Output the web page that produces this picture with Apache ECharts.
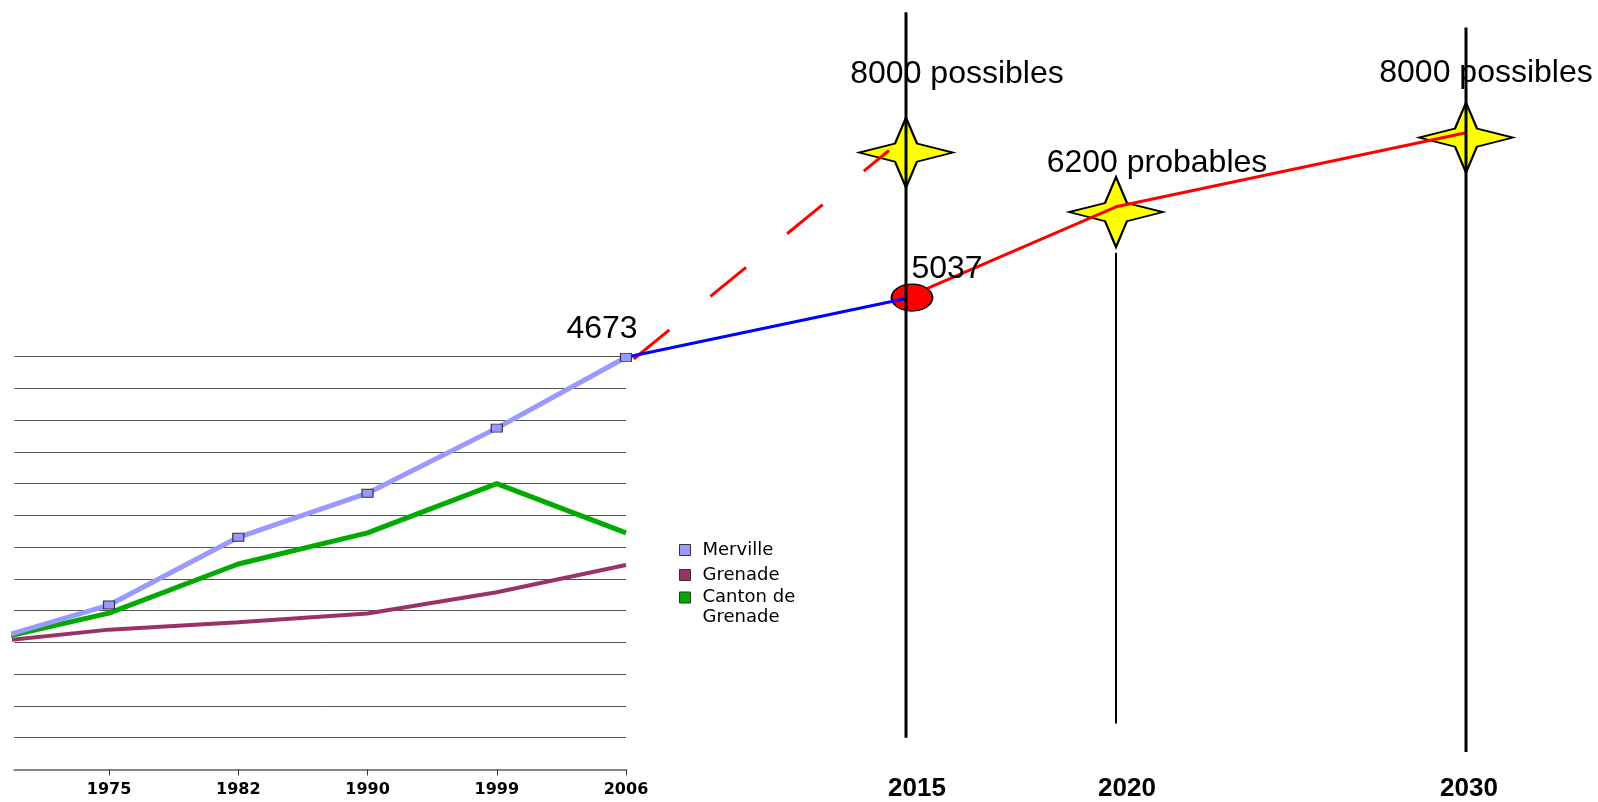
<!DOCTYPE html>
<html><head><meta charset="utf-8">
<script src="https://cdn.jsdelivr.net/npm/echarts/dist/echarts.min.js"></script>
<style>html,body{margin:0;padding:0;background:#fff}#c{width:1598px;height:802px}</style>
</head><body><div id="c"></div>
<script>
// ---- data ----
const years = ['1968','1975','1982','1990','1999','2006'];
const merville = [1431, 1864, 2632, 3132, 3870, 4673];
const grenade  = [1432, 1585, 1670, 1767, 2008, 2317];
const canton   = [1440, 1772, 2329, 2682, 3240, 2682];
const seriesNames = ['Merville', 'Grenade', 'Canton de\nGrenade'];

const projYears = ['2006','2007','2008','2010','2015','2016','2018','2020','2022','2024','2026','2028','2030'];
const projTicks = [4, 7, 12];
const projBlue   = [[0, 4673], [4, 5340]];
const projDashed = [[0, 4582], [3.757, 7018]];
const projRed    = [[4, 5350], [7, 6380], [12, 7220]];
const ellipsePt  = [4, 5350];
const ellipseText = '5037';
const stars = [[4, 6995], [7, 6320], [12, 7165]];
const starTexts = ['8000 possibles', '6200 probables', '8000 possibles'];
const vlines = [[4, 8585, 358], [7, 5858, 520], [12, 8413, 196]];

// ---- styles ----
const FONT = 'Liberation Sans, Arial, sans-serif';
const LFONT = 'DejaVu Sans, sans-serif';
const starLabelOffsets = [[51, -78], [41, -49], [20, -64]];
const projLabelShift = {4: 22, 7: 22, 12: 6};
const vlineWidths = [3, 2, 3];
const starPath = 'path://M0,-35 L11,-9 L47,0 L11,9 L0,35 L-11,9 L-47,0 L-11,-9 Z';
// square icon placed at the top of a taller box so it lines up with the first text line
const topSquareIcon = 'path://M0,0L11,0L11,11L0,11Z M11,31 L11,31';

const chart = echarts.init(document.getElementById('c'), null, {renderer: 'canvas'});

const series = [
  {
    name: seriesNames[0], type: 'line', xAxisIndex: 0, yAxisIndex: 0,
    data: merville.map((v, i) => {
      const d = {value: [i, v]};
      if (i === 0) d.symbol = 'none';
      if (i === merville.length - 1) d.label = {show: true, formatter: String(v), position: 'inside', align: 'center', verticalAlign: 'middle', offset: [-24, -28], fontSize: 32, color: '#000', fontFamily: FONT};
      return d;
    }),
    symbol: 'rect', symbolSize: [11, 8], showSymbol: true, clip: true,
    lineStyle: {color: '#9999ff', width: 5},
    itemStyle: {color: '#9999ff', borderColor: '#333', borderWidth: 1},
    z: 5
  },
  {
    name: seriesNames[1], type: 'line', xAxisIndex: 0, yAxisIndex: 0,
    data: grenade.map((v, i) => [i, v]), symbol: 'none', clip: true,
    lineStyle: {color: '#993366', width: 4},
    itemStyle: {color: '#993366', borderColor: '#333', borderWidth: 1},
    z: 3
  },
  {
    name: seriesNames[2], type: 'line', xAxisIndex: 0, yAxisIndex: 0,
    data: canton.map((v, i) => [i, v]), symbol: 'none', clip: true,
    lineStyle: {color: '#00aa00', width: 5},
    itemStyle: {color: '#00aa00', borderColor: '#333', borderWidth: 1},
    z: 4
  },
  // projections
  {
    type: 'scatter', xAxisIndex: 1, yAxisIndex: 1, silent: true, clip: false,
    data: stars.map((p, i) => ({value: p, label: {show: true, formatter: starTexts[i], position: 'inside', align: 'center', verticalAlign: 'middle', offset: starLabelOffsets[i], fontSize: 32, color: '#000', fontFamily: FONT}})),
    symbol: starPath, symbolSize: [94, 70], symbolKeepAspect: false,
    itemStyle: {color: '#ffff00', borderColor: '#000', borderWidth: 2, opacity: 1},
    z: 2
  },
  {
    type: 'line', xAxisIndex: 1, yAxisIndex: 1, silent: true,
    data: projDashed, symbol: 'none',
    lineStyle: {color: '#ff0000', width: 3, type: [46, 53], dashOffset: 89},
    z: 3
  },
  {
    type: 'line', xAxisIndex: 1, yAxisIndex: 1, silent: true,
    data: projRed, symbol: 'none',
    lineStyle: {color: '#ff0000', width: 3},
    z: 3
  },
  {
    type: 'scatter', xAxisIndex: 1, yAxisIndex: 1, silent: true,
    data: [{value: ellipsePt, label: {show: true, formatter: ellipseText, position: 'inside', align: 'center', verticalAlign: 'middle', offset: [35, -28], fontSize: 32, color: '#000', fontFamily: FONT}}],
    symbol: 'circle', symbolSize: [41, 27], symbolOffset: [6, 0],
    itemStyle: {color: '#ff0000', borderColor: '#000', borderWidth: 1.5, opacity: 1},
    z: 4
  },
  {
    type: 'line', xAxisIndex: 1, yAxisIndex: 1, silent: true,
    data: projBlue, symbol: 'none',
    lineStyle: {color: '#0000ff', width: 3},
    z: 5
  }
];
vlines.forEach((v, i) => {
  series.push({
    type: 'line', xAxisIndex: 1, yAxisIndex: 1, silent: true, clip: false,
    data: [[v[0], v[1]], [v[0], v[2]]], symbol: 'none',
    lineStyle: {color: '#000', width: vlineWidths[i]},
    z: 6
  });
});

const projRich = {};
projTicks.forEach(t => {
  projRich['t' + t] = {fontSize: 26, fontWeight: 'bold', color: '#000', fontFamily: FONT, padding: [0, 0, 0, projLabelShift[t]]};
});

const legendBase = {
  orient: 'vertical', left: 674, itemGap: 5,
  itemStyle: {borderColor: '#333', borderWidth: 1},
  textStyle: {fontSize: 18, color: '#000', fontFamily: LFONT, lineHeight: 20, padding: [0, 0, 0, 7]}
};

chart.setOption({
  animation: false,
  backgroundColor: '#fff',
  textStyle: {fontFamily: FONT},
  legend: [
    Object.assign({}, legendBase, {
      data: seriesNames.slice(0, 2), top: 535,
      icon: 'rect', itemWidth: 11, itemHeight: 11
    }),
    Object.assign({}, legendBase, {
      data: seriesNames.slice(2), top: 582.5,
      icon: topSquareIcon, itemWidth: 11, itemHeight: 31, symbolKeepAspect: true
    })
  ],
  grid: [
    {left: 14.3, width: 611.7, top: 356.7, bottom: 32.6, containLabel: false},
    {left: 626, width: 840, top: 7.5, bottom: 32.6, containLabel: false}
  ],
  xAxis: [
    {
      type: 'value', gridIndex: 0, min: 0.267, max: 5,
      axisLine: {show: true, onZero: false, lineStyle: {color: '#888', width: 2}},
      axisTick: {show: true, length: 6, customValues: [1, 2, 3, 4, 5], lineStyle: {color: '#333'}},
      axisLabel: {customValues: [1, 2, 3, 4, 5], formatter: (v) => years[Math.round(v)], fontSize: 16, fontWeight: 'bold', color: '#000', margin: 12, fontFamily: LFONT},
      splitLine: {show: false}
    },
    {
      type: 'value', gridIndex: 1, min: 0, max: 12,
      axisLine: {show: false}, axisTick: {show: false},
      axisLabel: {customValues: projTicks, formatter: (v) => { const k = Math.round(v); return '{t' + k + '|' + projYears[k] + '}'; }, rich: projRich, margin: 6},
      splitLine: {show: false}
    }
  ],
  yAxis: [
    {
      type: 'value', gridIndex: 0, min: 0, max: 4680, interval: 360,
      axisLine: {show: false}, axisTick: {show: false}, axisLabel: {show: false},
      splitLine: {show: true, lineStyle: {color: '#555', width: 1}}
    },
    {
      type: 'value', gridIndex: 1, min: 0, max: 8640, interval: 360, show: false,
      splitLine: {show: false}
    }
  ],
  series: series
});
</script>
</body></html>
